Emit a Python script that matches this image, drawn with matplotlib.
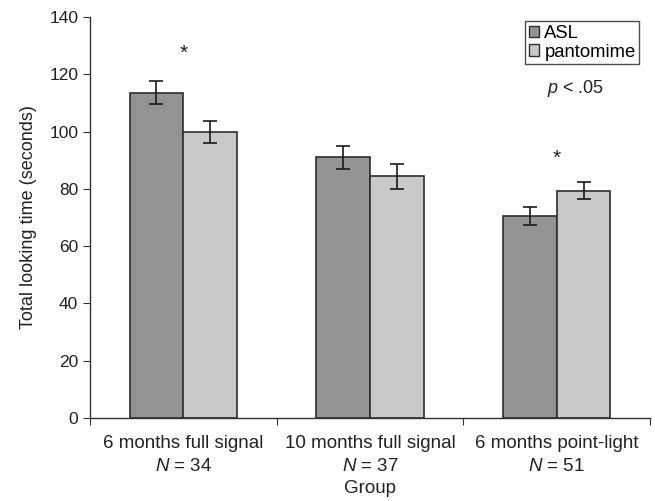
import numpy as np
import matplotlib
matplotlib.use('Agg')
import matplotlib.pyplot as plt
from matplotlib.patches import Patch

plt.rcParams['font.family'] = ['Liberation Sans', 'DejaVu Sans']
plt.rcParams['mathtext.fontset'] = 'custom'
plt.rcParams['mathtext.it'] = 'Liberation Sans:italic'
plt.rcParams['mathtext.rm'] = 'Liberation Sans'

# data
groups = ['6 months full signal', '10 months full signal', '6 months point-light']
n_sizes = [34, 37, 51]
asl = [113.6, 91.0, 70.5]
asl_err = [3.9, 4.0, 3.0]
panto = [99.8, 84.4, 79.3]
panto_err = [3.8, 4.3, 3.0]
star_x = [0, 2]         # groups with a significant difference
star_y = [127.5, 90.5]

fig = plt.figure(figsize=(6.55, 5.01), dpi=100)
ax = fig.add_axes([0.1374, 0.1657, 0.855, 0.8003])

x = np.arange(len(groups))
w = 0.288
ec = '#2e2e2e'
ekw = dict(ecolor='#1a1a1a', elinewidth=1.2, capsize=5, capthick=1.2)
ax.bar(x - w/2, asl, w, color='#939393', edgecolor=ec, linewidth=1.2,
       yerr=asl_err, error_kw=ekw)
ax.bar(x + w/2, panto, w, color='#c8c9cb', edgecolor=ec, linewidth=1.2,
       yerr=panto_err, error_kw=ekw)

for sx, sy in zip(star_x, star_y):
    ax.text(sx, sy, '*', ha='center', va='center', fontsize=15, color='#222222')

ax.set_xlim(-0.5, 2.5)
ax.set_ylim(0, 140)
ax.set_yticks(np.arange(0, 141, 20))
ax.set_xticks([-0.5, 0.5, 1.5, 2.5])
ax.set_xticklabels([])
ax.set_xticks(x, minor=True)
ax.set_xticklabels([f'{g}\n$N$ = {n}' for g, n in zip(groups, n_sizes)], minor=True,
                   linespacing=1.45)
ax.tick_params(axis='x', which='minor', length=0, pad=12, labelsize=13.5, colors='#222222')
ax.tick_params(axis='x', which='major', length=5, color='#333333')
ax.tick_params(axis='y', length=5, labelsize=12.5, colors='#222222', color='#333333')

for s in ['top', 'right']:
    ax.spines[s].set_visible(False)
for s in ['left', 'bottom']:
    ax.spines[s].set_color('#333333')
    ax.spines[s].set_linewidth(1.0)

ax.set_ylabel('Total looking time (seconds)', fontsize=13, color='#222222', labelpad=9)
ax.set_xlabel('Group', fontsize=13.5, color='#222222', labelpad=4)

handles = [Patch(facecolor='#939393', edgecolor=ec, label='ASL'),
           Patch(facecolor='#c8c9cb', edgecolor=ec, label='pantomime')]
leg = ax.legend(handles=handles, loc='upper right', bbox_to_anchor=(0.981, 0.99),
                fontsize=13.3, frameon=True, fancybox=False, handlelength=0.55,
                handleheight=0.55, handletextpad=0.3, borderpad=0.2, labelspacing=0.1,
                borderaxespad=0.0)
leg.get_frame().set_edgecolor('#222222')
leg.get_frame().set_linewidth(1.0)

ax.text(2.1, 115, '$p$ < .05', ha='center', va='center', fontsize=13, color='#222222')

fig.savefig('out.png', dpi=100)
